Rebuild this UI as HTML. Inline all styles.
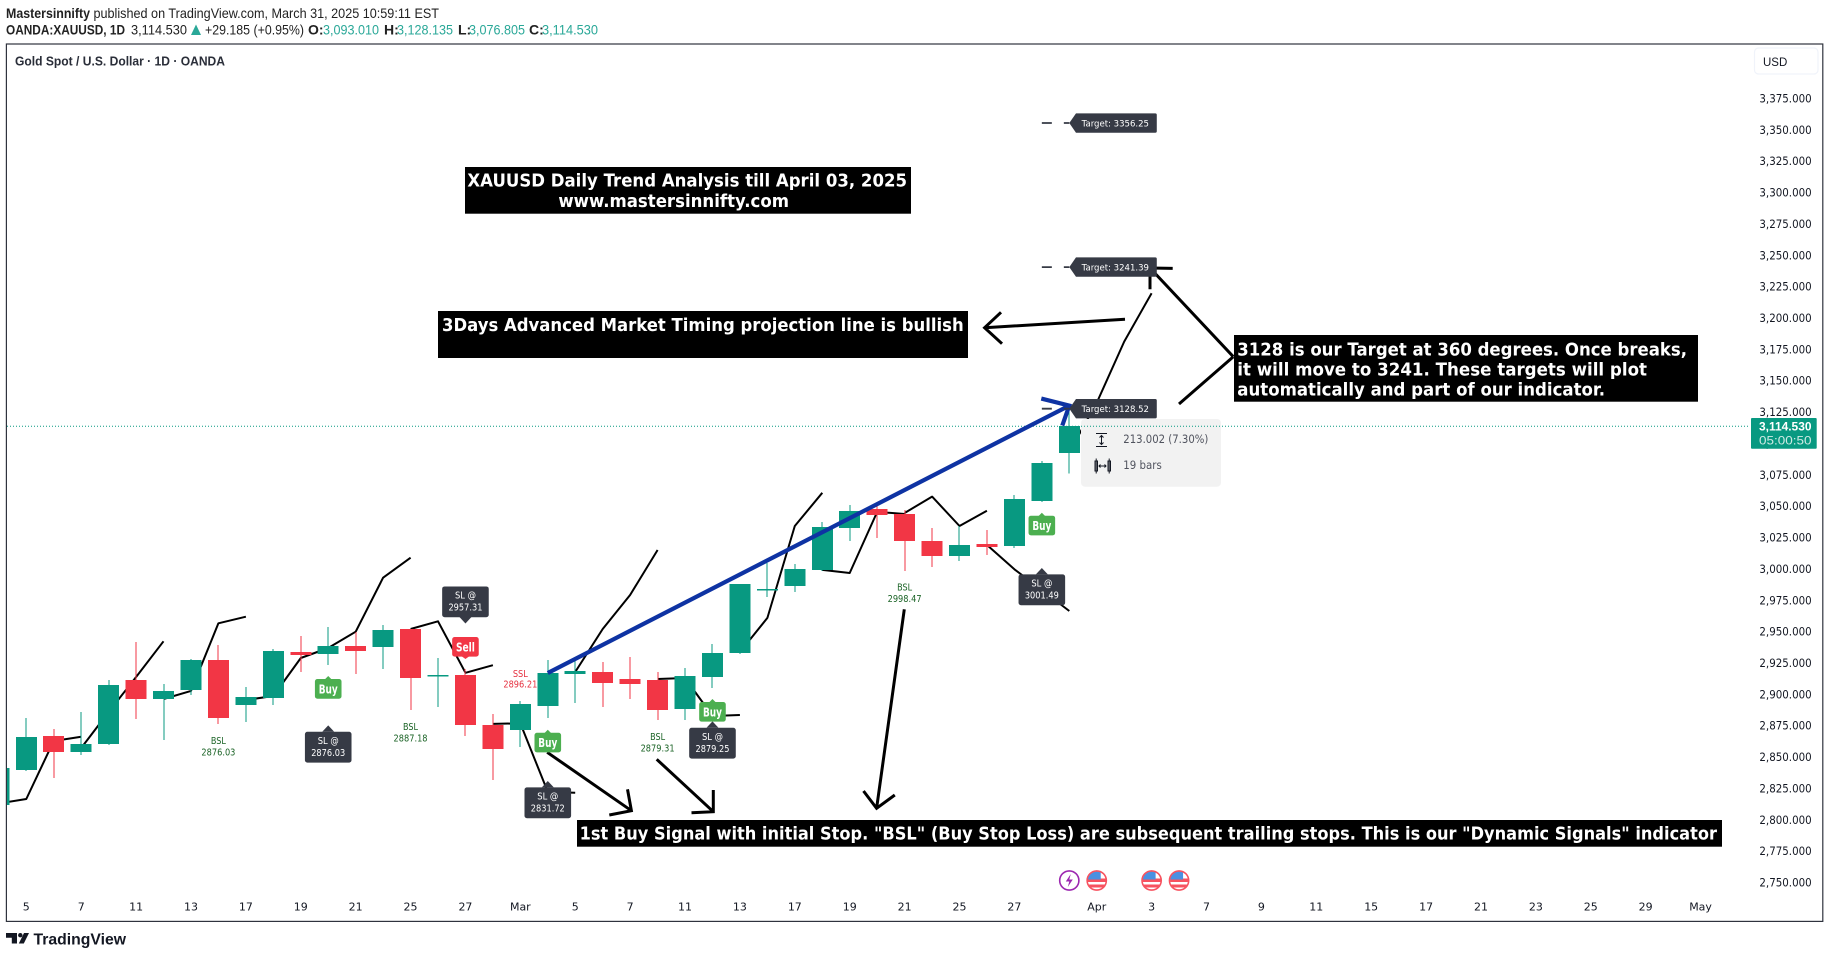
<!DOCTYPE html>
<html lang="en">
<head>
<meta charset="utf-8">
<title>XAUUSD Daily Trend Analysis</title>
<style>
html,body{margin:0;padding:0;background:#fff;width:1829px;height:958px;overflow:hidden}
svg{display:block;font-family:"Liberation Sans",Arial,sans-serif}
.note{font-family:"DejaVu Sans","Liberation Sans",sans-serif;font-weight:bold;font-size:17.5px;fill:#fff}
.hdr{font-size:14px;fill:#222}
.hdrv{font-size:14px;fill:#2aa898}
.arrow{fill:none;stroke:#000;stroke-width:3;stroke-linecap:butt;stroke-linejoin:miter}
.dj{font-family:"DejaVu Sans","Liberation Sans",sans-serif}
</style>
</head>
<body>
<svg id="chart" xmlns="http://www.w3.org/2000/svg" width="1829" height="958" viewBox="0 0 1829 958">
  <defs>
    <clipPath id="pane-clip"><rect x="7" y="44" width="1745" height="877"/></clipPath>
    <clipPath id="flag-clip"><circle cx="0" cy="0" r="9"/></clipPath>
  </defs>
  <rect x="0" y="0" width="1829" height="958" fill="#fff"/>

  <!-- header -->
  <g>
    <text class="hdr" x="6" y="18" font-weight="bold" textLength="84" lengthAdjust="spacingAndGlyphs">Mastersinnifty</text>
    <text class="hdr" x="93.5" y="18" textLength="345.5" lengthAdjust="spacingAndGlyphs">published on TradingView.com, March 31, 2025 10:59:11 EST</text>
  </g>
  <g>
    <text class="hdr" x="6" y="34.5" font-weight="bold" textLength="119" lengthAdjust="spacingAndGlyphs">OANDA:XAUUSD, 1D</text>
    <text class="hdr" x="131" y="34.5" textLength="56" lengthAdjust="spacingAndGlyphs">3,114.530</text>
    <path d="M191 35L196 24.5L201 35Z" fill="#2aa898"/>
    <text class="hdr" x="205" y="34.5" textLength="99" lengthAdjust="spacingAndGlyphs">+29.185 (+0.95%)</text>
    <text class="hdr" x="308" y="34.5" font-weight="bold">O:</text>
    <text class="hdrv" x="323" y="34.5" textLength="56" lengthAdjust="spacingAndGlyphs">3,093.010</text>
    <text class="hdr" x="384" y="34.5" font-weight="bold">H:</text>
    <text class="hdrv" x="397" y="34.5" textLength="56" lengthAdjust="spacingAndGlyphs">3,128.135</text>
    <text class="hdr" x="458" y="34.5" font-weight="bold">L:</text>
    <text class="hdrv" x="469" y="34.5" textLength="56" lengthAdjust="spacingAndGlyphs">3,076.805</text>
    <text class="hdr" x="529" y="34.5" font-weight="bold">C:</text>
    <text class="hdrv" x="542" y="34.5" textLength="56" lengthAdjust="spacingAndGlyphs">3,114.530</text>
  </g>

  <!-- frame and legend -->
  <rect x="6.4" y="44" width="1816.4" height="877.4" fill="none" stroke="#2f333e" stroke-width="1.2"/>
  <text x="15" y="65.5" font-size="13" font-weight="bold" fill="#2a2e39" textLength="210" lengthAdjust="spacingAndGlyphs">Gold Spot / U.S. Dollar · 1D · OANDA</text>
  <g>
    <rect x="1754.5" y="48" width="63.5" height="26" rx="4" fill="#fff" stroke="#f0f3fa" stroke-width="1.2"/>
    <text x="1763" y="66" font-size="11.5" fill="#131722">USD</text>
  </g>

  <g id="axis-layer"></g>
  <g id="plot-layer" clip-path="url(#pane-clip)"></g>
  <g id="tooltip-layer">
    <rect x="1081" y="419" width="140" height="67.7" rx="4" fill="#f2f2f2"/>
    <g stroke="#131722" stroke-width="1" fill="none">
      <path d="M1096 433.5h11M1096 446.5h11M1101.5 435.5v9M1099.5 437.5l2-2 2 2M1099.5 442.5l2 2 2-2"/>
    </g>
    <text class="dj" x="1123.3" y="443" font-size="11.5" fill="#50535e" textLength="85" lengthAdjust="spacingAndGlyphs">213.002 (7.30%)</text>
    <g stroke="#131722" stroke-width="1" fill="none">
      <path d="M1095 461h2.5v10h-2.5zM1108 461h2.5v10h-2.5zM1096.2 458.5v15M1109.2 458.5v15M1099 466h7M1100.5 464.5l-1.5 1.5 1.5 1.5M1104.5 464.5l1.5 1.5-1.5 1.5"/>
    </g>
    <text class="dj" x="1123.3" y="469" font-size="11.5" fill="#50535e" textLength="38.5" lengthAdjust="spacingAndGlyphs">19 bars</text>
  </g>
  <g id="overlay-layer"></g>

  <!-- drawn arrows -->
  <g>
    <path class="arrow" d="M547.2 752.3L631.4 810.7M627.5 789.3L631.4 810.7L609.3 815"/>
    <path class="arrow" d="M656.7 759.3L713.3 811.7M713.3 790L713.3 811.7L691.5 812.7"/>
    <path class="arrow" d="M904.3 609.3L876.6 808.3M863.5 791L876.6 808.3L894.8 795"/>
    <path class="arrow" stroke-width="2.5" d="M1125 319.3L984.6 327.7M1001 312.3L984.6 327.7L1002 343.7"/>
    <path class="arrow" d="M1233.3 356.7L1150 268M1172.7 268.4L1150 268M1150 268L1150 289.3"/>
    <path class="arrow" d="M1233.3 356.7L1179 404"/>
  </g>
  <g id="label-layer"></g>

  <!-- text notes -->
  <g>
    <rect x="465" y="167" width="446" height="46.7" fill="#000"/>
    <text class="note" x="467.4" y="186.5" textLength="439.6" lengthAdjust="spacingAndGlyphs">XAUUSD Daily Trend Analysis till April 03, 2025</text>
    <text class="note" x="558.4" y="207" textLength="230.6" lengthAdjust="spacingAndGlyphs">www.mastersinnifty.com</text>
  </g>
  <g>
    <rect x="438" y="311" width="530" height="47" fill="#000"/>
    <text class="note" x="442" y="331" textLength="521.7" lengthAdjust="spacingAndGlyphs">3Days Advanced Market Timing projection line is bullish</text>
  </g>
  <g>
    <rect x="1234" y="335" width="464" height="66.7" fill="#000"/>
    <text class="note" x="1237.3" y="355.5" textLength="449.7" lengthAdjust="spacingAndGlyphs">3128 is our Target at 360 degrees. Once breaks,</text>
    <text class="note" x="1237.3" y="375.5" textLength="409.7" lengthAdjust="spacingAndGlyphs">it will move to 3241. These targets will plot</text>
    <text class="note" x="1237.3" y="395.5" textLength="367.7" lengthAdjust="spacingAndGlyphs">automatically and part of our indicator.</text>
  </g>
  <g>
    <rect x="577" y="820" width="1145" height="26.7" fill="#000"/>
    <text class="note" x="579.6" y="839.5" textLength="1137.4" lengthAdjust="spacingAndGlyphs">1st Buy Signal with initial Stop. "BSL" (Buy Stop Loss) are subsequent trailing stops. This is our "Dynamic Signals" indicator</text>
  </g>

  <!-- current price tag -->
  <g>
    <rect x="1751" y="418" width="65.7" height="30.7" rx="1" fill="#089981"/>
    <text x="1811.5" y="430.5" text-anchor="end" font-size="12" font-weight="bold" fill="#fff" textLength="52.5" lengthAdjust="spacingAndGlyphs">3,114.530</text>
    <text x="1811.5" y="444.5" text-anchor="end" font-size="12" fill="#cfeae4" textLength="52.5" lengthAdjust="spacingAndGlyphs">05:00:50</text>
  </g>

  <!-- logo -->
  <g transform="translate(0,8)">
    <path d="M6 925h11v10.5h-5.2v-5.7H6z M24 925h5l-5.2 10.5h-5z" fill="#131722"/>
    <circle cx="20.3" cy="927.2" r="2.2" fill="#131722"/>
    <text x="33.5" y="936.5" font-size="16" font-weight="bold" fill="#131722" textLength="92.5" lengthAdjust="spacingAndGlyphs">TradingView</text>
  </g>
</svg>

<script>
// ---------- chart data ----------
const firstBar = -1;
const opens  = [2812.6,2840.5,2867.6,2854.8,2861.2,2912.2,2897.1,2904.3,2928.2,2892.3,2897.9,2934.6,2933.0,2939.3,2938.5,2952.9,2915.0,2916.2,2876.4,2872.4,2891.5,2917.0,2918.6,2913.0,2912.2,2889.1,2914.6,2933.8,2983.6,2987.2,3000.0,3033.4,3048.6,3044.6,3023.0,3011.1,3020.7,3019.1,3055.0,3093.01];
const highs  = [2845.0,2881.9,2873.2,2886.7,2912.2,2942.5,2909.0,2929.0,2940.1,2906.6,2937.0,2947.3,2954.5,2950.5,2956.1,2952.9,2929.8,2921.0,2885.1,2895.5,2928.2,2929.8,2926.6,2930.6,2918.6,2921.8,2940.9,2988.8,3005.5,3004.7,3038.2,3051.7,3054.2,3047.8,3033.4,3035.0,3031.8,3059.7,3086.8,3128.135];
const lows   = [2810.0,2839.7,2834.1,2852.5,2860.4,2881.1,2864.4,2900.3,2877.2,2878.8,2892.3,2918.6,2924.2,2917.0,2921.0,2888.3,2890.7,2867.6,2832.5,2858.8,2881.9,2893.9,2890.7,2897.1,2880.4,2880.4,2905.9,2933.0,2978.4,2982.4,2999.2,3023.0,3025.4,2999.2,3002.3,3007.1,3011.9,3017.5,3054.1,3076.805];
const closes = [2842.1,2866.8,2854.8,2861.2,2908.2,2897.1,2903.5,2928.2,2881.9,2898.7,2935.4,2932.2,2939.3,2935.4,2952.1,2913.8,2916.2,2876.4,2857.2,2893.1,2917.8,2919.4,2909.8,2909.0,2888.3,2915.4,2933.8,2988.8,2984.8,3000.7,3034.2,3046.9,3043.8,3023.0,3011.1,3019.9,3018.3,3056.5,3085.2,3114.53];

const projectionStartBars = [-1,2,5,8,11,14,17,20,23,26,29,32,35,38];
const projectionValues = [
  [2813.8,2817.4,2863.6,2867.0],
  [2858.0,2886.7,2914.6,2943.1],
  [2897.1,2903.5,2957.4,2962.7],
  [2896.3,2899.5,2929.8,2937.7],
  [2937.7,2950.7,2993.8,3009.7],
  [2952.9,2959.0,2918.0,2924.0],
  [2877.2,2877.7,2823.0,2822.4],
  [2918.6,2952.9,2980.0,3015.9],
  [2913.0,2913.8,2883.5,2884.3],
  [2934.5,2961.7,3035.0,3061.5],
  [3000.0,2997.5,3046.2,3044.6],
  [3045.4,3058.4,3035.0,3047.2],
  [3019.9,3000.5,2984.0,2967.2],
  [3094.0,3133.1,3182.0,3220.6]
];

const priceTicks = [3375,3350,3325,3300,3275,3250,3225,3200,3175,3150,3125,3100,3075,3050,3025,3000,2975,2950,2925,2900,2875,2850,2825,2800,2775,2750];
const timeTickBars = [0,2,4,6,8,10,12,14,16,18,20,22,24,26,28,30,32,34,36,39,41,43,45,47,49,51,53,55,57,59,61];
const timeTickLabels = ["5","7","11","13","17","19","21","25","27","Mar","5","7","11","13","17","19","21","25","27","Apr","3","7","9","11","15","17","21","23","25","29","May"];
const lastPrice = 3114.53;

const trendBars = [19,38];
const trendPrices = [2917.8,3131.0];

const targetPrices = [3356.25,3241.39,3128.52];
const targetBar = 38;

const slLabelBars = [16,11,19,25,37];
const slLabelPrices = [2957.31,2876.03,2831.72,2879.25,3001.49];
const slLabelPointsDown = [true,false,false,false,false];

const buyBars = [11,19,25,37];
const buyPrices = [2915.4,2872.6,2897.1,3045.6];
const sellBars = [16];
const sellPrices = [2929.0];

const bslBars = [7,14,23,32];
const bslPrices = [2876.03,2887.18,2879.31,2998.47];
const sslBars = [18];
const sslPrices = [2896.21];

const lightningBars = [38];
const flagBars = [39,41,42];

// ---------- axis functions ----------
function xOf(bar){ return 26.3 + 27.447 * bar; }
function yOf(price){ return 99.5 + (3375 - price) * 1.2544; }

const SVG_NS = 'http://www.w3.org/2000/svg';
function make(parent, tag, attrs, text){
  const node = document.createElementNS(SVG_NS, tag);
  for (const key in attrs) node.setAttribute(key, attrs[key]);
  if (text !== undefined) node.textContent = text;
  parent.appendChild(node);
  return node;
}
const axisLayer = document.getElementById('axis-layer');
const plotLayer = document.getElementById('plot-layer');
const overlayLayer = document.getElementById('overlay-layer');
const labelLayer = document.getElementById('label-layer');
const UP = '#089981', DOWN = '#f23645', DARK = '#363a45', BUY = '#4caf50';

// price axis
priceTicks.forEach(function(price){
  const label = price.toLocaleString('en-US',{minimumFractionDigits:3,maximumFractionDigits:3});
  const t = make(axisLayer,'text',{class:'dj',x:1811.7,y:yOf(price)+3,'text-anchor':'end','font-size':11.5,fill:'#131722',textLength:52.3,lengthAdjust:'spacingAndGlyphs'},label);
  
  
});

// time axis
timeTickBars.forEach(function(bar,i){
  const t = make(axisLayer,'text',{class:'dj',x:xOf(bar),y:910.5,'text-anchor':'middle','font-size':11,fill:'#131722'},timeTickLabels[i]);
  
  
});

// projection line segments
projectionValues.forEach(function(values,s){
  const d = values.map(function(v,i){ return xOf(projectionStartBars[s]+i).toFixed(1)+','+yOf(v).toFixed(1); }).join(' ');
  const line = make(plotLayer,'polyline',{points:d,fill:'none',stroke:'#000','stroke-width':2,'stroke-linejoin':'round'});
  
  
});

// candles
opens.forEach(function(open,i){
  const bar = firstBar + i;
  const close = closes[i];
  const color = close >= open ? UP : DOWN;
  const cx = xOf(bar);
  const g = make(plotLayer,'g',{'shape-rendering':'crispEdges'});
  
  
  make(g,'rect',{x:Math.round(cx)-0.5,y:yOf(highs[i]),width:1,height:Math.max(1,yOf(lows[i])-yOf(highs[i])),fill:color});
  const top = yOf(Math.max(open,close));
  const h = Math.max(1.5,yOf(Math.min(open,close))-top);
  make(g,'rect',{x:cx-10.5,y:top,width:21,height:h,fill:color});
});

// last-price dotted line
const priceLine = make(overlayLayer,'line',{x1:7,x2:1749,y1:yOf(lastPrice),y2:yOf(lastPrice),stroke:UP,'stroke-width':1,'stroke-dasharray':'1 2'});



// blue trend arrow
const tipX = xOf(trendBars[1]), tipY = yOf(trendPrices[1]);
const trend = make(overlayLayer,'path',{
  d:'M'+xOf(trendBars[0])+' '+yOf(trendPrices[0])+'L'+tipX+' '+tipY+
    'M'+(tipX-28)+' '+(tipY-7)+'L'+tipX+' '+tipY+'L'+(tipX-7)+' '+(tipY+20),
  fill:'none',stroke:'#0e33a3','stroke-width':4.2});



// target labels with dashes
targetPrices.forEach(function(price){
  const y = yOf(price);
  const x0 = xOf(targetBar);
  const dash = make(overlayLayer,'line',{x1:xOf(targetBar-1),x2:x0,y1:y,y2:y,stroke:DARK,'stroke-width':1.8,'stroke-dasharray':'10 12'});
  
  
  const g = make(labelLayer,'g',{});
  
  
  make(g,'path',{d:'M'+x0+' '+y+'L'+(x0+6.7)+' '+(y-9.7)+'H'+(x0+86)+'a1.5 1.5 0 0 1 1.5 1.5V'+(y+8.2)+'a1.5 1.5 0 0 1 -1.5 1.5H'+(x0+6.7)+'Z',fill:DARK});
  make(g,'text',{class:'dj',x:x0+12.4,y:y+3.3,'font-size':9,fill:'#fff',textLength:67.3,lengthAdjust:'spacingAndGlyphs'},'Target: '+price.toFixed(2));
});

// stop-loss callouts (the tip sits on the stop price)
slLabelBars.forEach(function(bar,i){
  const cx = xOf(bar), tip = yOf(slLabelPrices[i]), down = slLabelPointsDown[i];
  const top = down ? tip-37 : tip+6.4;
  const g = make(labelLayer,'g',{});
  
  
  make(g,'rect',{x:cx-23.3,y:top,width:46.6,height:30.8,rx:2.5,fill:DARK});
  const p = down ? 'M'+(cx-6)+' '+(tip-6.4)+'L'+cx+' '+tip+'L'+(cx+6)+' '+(tip-6.4)+'Z'
                 : 'M'+(cx-6)+' '+(tip+6.4)+'L'+cx+' '+tip+'L'+(cx+6)+' '+(tip+6.4)+'Z';
  make(g,'path',{d:p,fill:DARK});
  make(g,'text',{class:'dj',x:cx,y:top+12.2,'text-anchor':'middle','font-size':9.5,fill:'#fff',textLength:21,lengthAdjust:'spacingAndGlyphs'},'SL @');
  make(g,'text',{class:'dj',x:cx,y:top+24.2,'text-anchor':'middle','font-size':9.5,fill:'#fff',textLength:34,lengthAdjust:'spacingAndGlyphs'},slLabelPrices[i].toFixed(2));
});

// buy flags
buyBars.forEach(function(bar,i){
  const cx = xOf(bar), tip = yOf(buyPrices[i]);
  const g = make(labelLayer,'g',{});
  
  
  make(g,'rect',{x:cx-13.3,y:tip+3,width:26.6,height:19.7,rx:2.5,fill:BUY});
  make(g,'path',{d:'M'+(cx-3.5)+' '+(tip+3.5)+'L'+cx+' '+tip+'L'+(cx+3.5)+' '+(tip+3.5)+'Z',fill:BUY});
  make(g,'text',{class:'dj',x:cx,y:tip+17.5,'text-anchor':'middle','font-size':12.5,'font-weight':'bold',fill:'#fff',textLength:19,lengthAdjust:'spacingAndGlyphs'},'Buy');
});

// sell flags
sellBars.forEach(function(bar,i){
  const cx = xOf(bar), tip = yOf(sellPrices[i]);
  const g = make(labelLayer,'g',{});
  
  
  make(g,'rect',{x:cx-13.3,y:tip-22,width:26.6,height:19.7,rx:2.5,fill:DOWN});
  make(g,'path',{d:'M'+(cx-3.5)+' '+(tip-2.5)+'L'+cx+' '+tip+'L'+(cx+3.5)+' '+(tip-2.5)+'Z',fill:DOWN});
  make(g,'text',{class:'dj',x:cx,y:tip-7.5,'text-anchor':'middle','font-size':12.5,'font-weight':'bold',fill:'#fff',textLength:19,lengthAdjust:'spacingAndGlyphs'},'Sell');
});

// BSL text markers (below the stop price)
bslBars.forEach(function(bar,i){
  const cx = xOf(bar), y = yOf(bslPrices[i]);
  const g = make(labelLayer,'g',{});
  
  
  make(g,'text',{class:'dj',x:cx,y:y+18.8,'text-anchor':'middle','font-size':9.5,fill:'#1b6326',textLength:15,lengthAdjust:'spacingAndGlyphs'},'BSL');
  make(g,'text',{class:'dj',x:cx,y:y+30,'text-anchor':'middle','font-size':9.5,fill:'#1b6326',textLength:34,lengthAdjust:'spacingAndGlyphs'},bslPrices[i].toFixed(2));
});

// SSL text markers (above the stop price)
sslBars.forEach(function(bar,i){
  const cx = xOf(bar), y = yOf(sslPrices[i]);
  const g = make(labelLayer,'g',{});
  
  
  make(g,'text',{class:'dj',x:cx,y:y-23,'text-anchor':'middle','font-size':9.5,fill:'#e5303f',textLength:15,lengthAdjust:'spacingAndGlyphs'},'SSL');
  make(g,'text',{class:'dj',x:cx,y:y-12.4,'text-anchor':'middle','font-size':9.5,fill:'#e5303f',textLength:34,lengthAdjust:'spacingAndGlyphs'},sslPrices[i].toFixed(2));
});

// event icons on the time scale
lightningBars.forEach(function(bar){
  const g = make(labelLayer,'g',{transform:'translate('+xOf(bar)+',880.5)'});
  
  
  make(g,'circle',{r:9.6,fill:'#fff',stroke:'#9c27b0','stroke-width':1.6});
  make(g,'path',{d:'M1.5 -6.5L-3.5 1H0L-1.5 6.5L3.5 -1H0Z',fill:'#9c27b0'});
});
flagBars.forEach(function(bar){
  const g = make(labelLayer,'g',{transform:'translate('+xOf(bar)+',880.5)'});
  
  
  const c = make(g,'g',{'clip-path':'url(#flag-clip)'});
  make(c,'rect',{x:-10,y:-10,width:20,height:20,fill:'#fff'});
  make(c,'rect',{x:-10,y:-2,width:20,height:3.5,fill:'#f7525f'});
  make(c,'rect',{x:-10,y:4,width:20,height:3,fill:'#f7525f'});
  make(c,'rect',{x:-10,y:-10,width:14,height:9,fill:'#4a90e2'});
  make(g,'circle',{r:9.6,fill:'none',stroke:'#f7525f','stroke-width':1.6});
});
</script>
</body>
</html>
